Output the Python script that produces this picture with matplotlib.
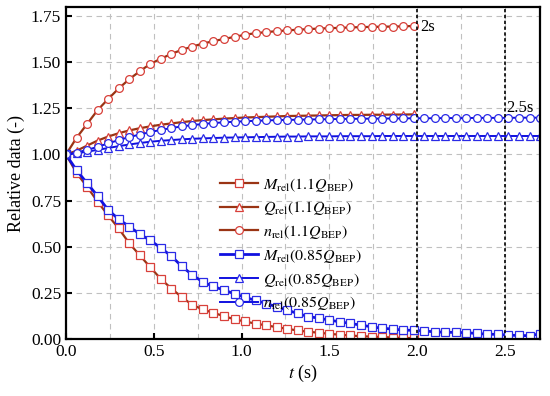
import numpy as np
import matplotlib
matplotlib.use("Agg")
import matplotlib.pyplot as plt
from matplotlib.ticker import MultipleLocator

plt.rcParams['font.family'] = ['Liberation Serif', 'DejaVu Serif']
plt.rcParams['mathtext.fontset'] = 'stix'

# sampling time of the markers (s)
t_red = np.round(np.arange(0, 1.99, 0.06), 2)   # 1.1 Q_BEP, stops at 2 s
t_blue = np.round(np.arange(0, 2.71, 0.06), 2)  # 0.85 Q_BEP, stops at 2.7 s

# 1.1 Q_BEP
M_11 = [1.0, 0.90, 0.825, 0.745, 0.67, 0.60, 0.52, 0.455, 0.39, 0.327, 0.275, 0.228,
        0.186, 0.162, 0.143, 0.126, 0.108, 0.097, 0.085, 0.076, 0.066, 0.057, 0.048,
        0.041, 0.036, 0.030, 0.025, 0.021, 0.017, 0.015, 0.013, 0.010, 0.008, 0.007]
Q_11 = [1.0, 1.02, 1.048, 1.075, 1.097, 1.115, 1.13, 1.142, 1.152, 1.161, 1.168, 1.175,
        1.181, 1.186, 1.19, 1.194, 1.197, 1.200, 1.202, 1.204, 1.206, 1.208, 1.209,
        1.210, 1.211, 1.212, 1.213, 1.214, 1.214, 1.215, 1.215, 1.216, 1.216, 1.217]
n_11 = [1.0, 1.09, 1.165, 1.24, 1.30, 1.357, 1.407, 1.45, 1.49, 1.518, 1.544, 1.566,
        1.584, 1.60, 1.613, 1.625, 1.636, 1.648, 1.656, 1.662, 1.667, 1.671, 1.675,
        1.678, 1.681, 1.683, 1.685, 1.687, 1.689, 1.690, 1.691, 1.692, 1.693, 1.695]

# 0.85 Q_BEP
M_085 = [1.0, 0.915, 0.845, 0.775, 0.70, 0.65, 0.61, 0.57, 0.535, 0.495, 0.45, 0.395,
         0.348, 0.31, 0.286, 0.266, 0.247, 0.227, 0.211, 0.194, 0.176, 0.158, 0.14,
         0.123, 0.115, 0.104, 0.095, 0.086, 0.077, 0.068, 0.06, 0.056, 0.05, 0.049,
         0.045, 0.041, 0.038, 0.038, 0.036, 0.032, 0.028, 0.027, 0.023, 0.021, 0.02, 0.03]
Q_085 = [1.0, 1.006, 1.015, 1.025, 1.035, 1.045, 1.054, 1.062, 1.069, 1.074, 1.078, 1.082,
         1.085, 1.087, 1.089, 1.091, 1.092, 1.093, 1.094, 1.095, 1.096, 1.097, 1.097,
         1.098, 1.098, 1.098, 1.099, 1.099, 1.099, 1.099, 1.100, 1.100, 1.100, 1.100,
         1.100, 1.100, 1.100, 1.100, 1.100, 1.100, 1.100, 1.100, 1.100, 1.100, 1.100, 1.100]
n_085 = [1.0, 1.01, 1.025, 1.041, 1.06, 1.078, 1.094, 1.108, 1.121, 1.133, 1.143, 1.152,
         1.159, 1.165, 1.170, 1.174, 1.177, 1.180, 1.182, 1.184, 1.186, 1.187, 1.188,
         1.189, 1.190, 1.191, 1.192, 1.193, 1.193, 1.194, 1.194, 1.195, 1.195, 1.196,
         1.196, 1.196, 1.197, 1.197, 1.197, 1.198, 1.198, 1.198, 1.198, 1.199, 1.199, 1.199]

labels = [r'$M_{\mathrm{rel}}(1.1Q_{\mathrm{BEP}})$',
          r'$Q_{\mathrm{rel}}(1.1Q_{\mathrm{BEP}})$',
          r'$n_{\mathrm{rel}}(1.1Q_{\mathrm{BEP}})$',
          r'$M_{\mathrm{rel}}(0.85Q_{\mathrm{BEP}})$',
          r'$Q_{\mathrm{rel}}(0.85Q_{\mathrm{BEP}})$',
          r'$n_{\mathrm{rel}}(0.85Q_{\mathrm{BEP}})$']

red_line = '#9a3414'
red_mk = '#d8403a'
blue_line = '#1010e0'
blue_mk = '#2a2ae6'

fig = plt.figure(figsize=(5.5, 3.96), dpi=100)
ax = fig.add_axes([0.12, 0.143, 0.862, 0.839])

mk = dict(markersize=5.6, markerfacecolor='white', markeredgewidth=0.9)
ax.plot(t_red, M_11, '-s', color=red_line, markeredgecolor=red_mk, lw=1.6, label=labels[0], **mk)
ax.plot(t_red, Q_11, '-^', color=red_line, markeredgecolor=red_mk, lw=1.6, label=labels[1], **mk)
ax.plot(t_red, n_11, '-o', color=red_line, markeredgecolor=red_mk, lw=1.6, label=labels[2], **mk)
ax.plot(t_blue, M_085, '-s', color=blue_line, markeredgecolor=blue_mk, lw=2.0, label=labels[3], **mk)
ax.plot(t_blue, Q_085, '-^', color=blue_line, markeredgecolor=blue_mk, lw=1.4, label=labels[4], **mk)
ax.plot(t_blue, n_085, '-o', color=blue_line, markeredgecolor=blue_mk, lw=1.4, label=labels[5], **mk)

ax.axvline(2.0, color='black', ls=(0, (2, 1.5)), lw=1.2)
ax.axvline(2.5, color='black', ls=(0, (2, 1.5)), lw=1.2)
ax.text(2.015, 1.69, '2s', fontsize=12, va='center', ha='left')
ax.text(2.51, 1.25, '2.5s', fontsize=12, va='center', ha='left')

ax.set_xlim(0, 2.7)
ax.set_ylim(0, 1.797)
ax.xaxis.set_major_locator(MultipleLocator(0.5))
ax.xaxis.set_minor_locator(MultipleLocator(0.25))
ax.yaxis.set_major_locator(MultipleLocator(0.25))
ax.tick_params(which='major', direction='in', length=4, width=1.5, labelsize=12.5,
               top=False, right=False)
ax.tick_params(which='minor', length=0)
ax.grid(True, which='both', ls=(0, (5, 4)), color='#c0c0c0', lw=0.8)
for s in ax.spines.values():
    s.set_linewidth(1.6)

ax.set_xlabel('$t$ (s)', fontsize=13, labelpad=2)
ax.set_ylabel('Relative data (-)', fontsize=13, labelpad=4)

ax.legend(loc='upper left', bbox_to_anchor=(0.325, 0.493), frameon=False, fontsize=11.5,
          handlelength=2.4, labelspacing=0.36, handletextpad=0.3, borderpad=0,
          borderaxespad=0)

fig.savefig('out.png', dpi=100)
